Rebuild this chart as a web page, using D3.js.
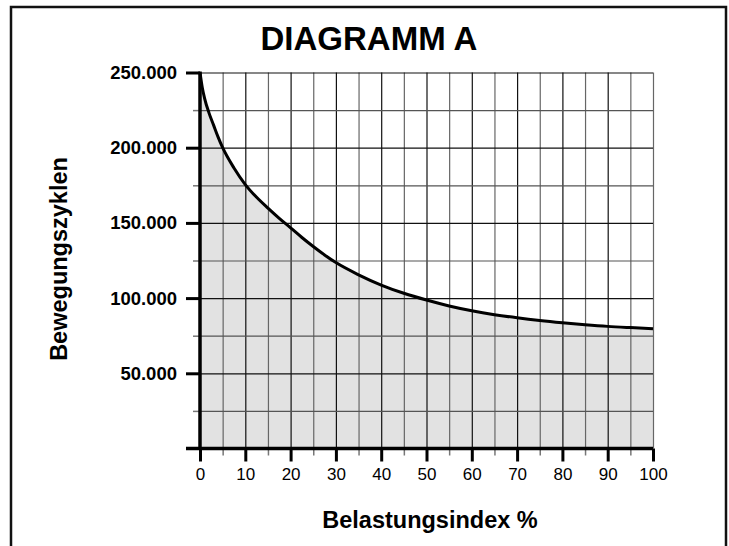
<!DOCTYPE html>
<html>
<head>
<meta charset="utf-8">
<script src="https://cdn.jsdelivr.net/npm/d3@7"></script>
<style>
  body { margin: 0; background: #fff; }
  svg { display: block; font-family: "Liberation Sans", Arial, Helvetica, sans-serif; }
</style>
</head>
<body>
<script>
// values
const loadIndex = [0, 0.5, 1, 2, 3, 4, 5, 7.5, 10, 12.5, 15, 17.5, 20, 22.5, 25, 27.5, 30, 35, 40, 45, 50, 55, 60, 65, 70, 75, 80, 85, 90, 95, 100];
const cycles = [250000, 240000, 233000, 223000, 215000, 207000, 200000, 186500, 175500, 167000, 159800, 153000, 146700, 140300, 134300, 128700, 123600, 115500, 108700, 103200, 98700, 94800, 91600, 89000, 86900, 85100, 83600, 82300, 81200, 80400, 79700];

const xMajorTicks = [0, 10, 20, 30, 40, 50, 60, 70, 80, 90, 100];
const xMinorTicks = [5, 15, 25, 35, 45, 55, 65, 75, 85, 95];
const yMajorTicks = [50000, 100000, 150000, 200000, 250000];
const yMinorTicks = [25000, 75000, 125000, 175000, 225000];

const titleText = 'DIAGRAMM A';
const xLabel = 'Belastungsindex %';
const yLabel = 'Bewegungszyklen';

const w = 729, h = 546;
const de = d3.formatLocale({ decimal: ',', thousands: '.', grouping: [3], currency: ['', ''] });

const svg = d3.select('body').append('svg')
  .attr('width', w)
  .attr('height', h);

// outer frame (open at the bottom)
svg.append('path')
  .attr('d', 'M11,' + h + 'V7H726V' + h)
  .attr('fill', 'none')
  .attr('stroke', '#111')
  .attr('stroke-width', 2.5);

svg.append('text')
  .attr('x', 369)
  .attr('y', 50)
  .attr('text-anchor', 'middle')
  .style('font-size', '33px')
  .style('font-weight', 'bold')
  .text(titleText);

const x = d3.scaleLinear().domain([0, 100]).range([200, 653]);
const y = d3.scaleLinear().domain([0, 250000]).range([448.5, 72.5]);

// filled area under the curve
const area = d3.area()
  .x((d, i) => x(loadIndex[i]))
  .y0(y(0))
  .y1(d => y(d))
  .curve(d3.curveMonotoneX);

svg.append('path')
  .datum(cycles)
  .attr('d', area)
  .attr('fill', '#e2e2e2');

// grid
const gridX = svg.append('g')
  .attr('transform', 'translate(0,' + y(0) + ')')
  .call(d3.axisBottom(x)
    .tickValues(d3.range(5, 101, 5))
    .tickSize(-(y(0) - y(250000)))
    .tickFormat(''));
gridX.select('.domain').remove();
gridX.selectAll('.tick line')
  .attr('stroke', d => d % 10 === 0 && d !== 100 ? '#111' : '#666')
  .attr('stroke-width', 1.2);

const gridY = svg.append('g')
  .attr('transform', 'translate(' + x(0) + ',0)')
  .call(d3.axisLeft(y)
    .tickValues(d3.range(25000, 250001, 25000))
    .tickSize(-(x(100) - x(0)))
    .tickFormat(''));
gridY.select('.domain').remove();
gridY.selectAll('.tick line')
  .attr('stroke', d => d % 50000 === 0 ? '#111' : '#555')
  .attr('stroke-width', 1.2);

// curve
const line = d3.line()
  .x((d, i) => x(loadIndex[i]))
  .y(d => y(d))
  .curve(d3.curveMonotoneX);

svg.append('path')
  .datum(cycles)
  .attr('d', line)
  .attr('fill', 'none')
  .attr('stroke', '#000')
  .attr('stroke-width', 3);

// x axis
const xMinor = svg.append('g')
  .attr('transform', 'translate(0,' + y(0) + ')')
  .call(d3.axisBottom(x).tickValues(xMinorTicks).tickSize(7).tickFormat(''));
xMinor.select('.domain').remove();
xMinor.selectAll('.tick line').attr('stroke', '#777').attr('stroke-width', 1.5);

const xAxis = svg.append('g')
  .attr('transform', 'translate(0,' + y(0) + ')')
  .call(d3.axisBottom(x).tickValues(xMajorTicks).tickSize(13).tickPadding(6).tickFormat(d3.format('d')));
xAxis.select('.domain').remove();
xAxis.selectAll('.tick line').attr('stroke', '#000').attr('stroke-width', 3);
xAxis.selectAll('.tick text')
  .attr('fill', '#000')
  .style('font-size', '17px')
  .style('font-family', '"Liberation Sans", Arial, sans-serif');

// y axis
const yMinor = svg.append('g')
  .attr('transform', 'translate(' + x(0) + ',0)')
  .call(d3.axisLeft(y).tickValues(yMinorTicks).tickSize(7).tickFormat(''));
yMinor.select('.domain').remove();
yMinor.selectAll('.tick line').attr('stroke', '#777').attr('stroke-width', 1.5);

const yAxis = svg.append('g')
  .attr('transform', 'translate(' + x(0) + ',0)')
  .call(d3.axisLeft(y).tickValues(yMajorTicks).tickSize(14).tickPadding(9).tickFormat(de.format(',')));
yAxis.select('.domain').remove();
yAxis.selectAll('.tick line').attr('stroke', '#000').attr('stroke-width', 3);
yAxis.selectAll('.tick text')
  .attr('fill', '#000')
  .style('font-size', '18.5px')
  .style('font-weight', 'bold')
  .style('font-family', '"Liberation Sans", Arial, sans-serif');

// axis lines
svg.append('line')
  .attr('x1', 186).attr('x2', x(100))
  .attr('y1', y(0)).attr('y2', y(0))
  .attr('stroke', '#000').attr('stroke-width', 3.5);
svg.append('line')
  .attr('x1', x(0)).attr('x2', x(0))
  .attr('y1', y(0)).attr('y2', y(250000) - 1)
  .attr('stroke', '#000').attr('stroke-width', 3.5);

// axis labels
svg.append('text')
  .attr('x', 430)
  .attr('y', 528)
  .attr('text-anchor', 'middle')
  .style('font-size', '23.5px')
  .style('font-weight', 'bold')
  .text(xLabel);

svg.append('text')
  .attr('transform', 'translate(67,259) rotate(-90)')
  .attr('text-anchor', 'middle')
  .style('font-size', '23.5px')
  .style('font-weight', 'bold')
  .text(yLabel);
</script>
</body>
</html>
